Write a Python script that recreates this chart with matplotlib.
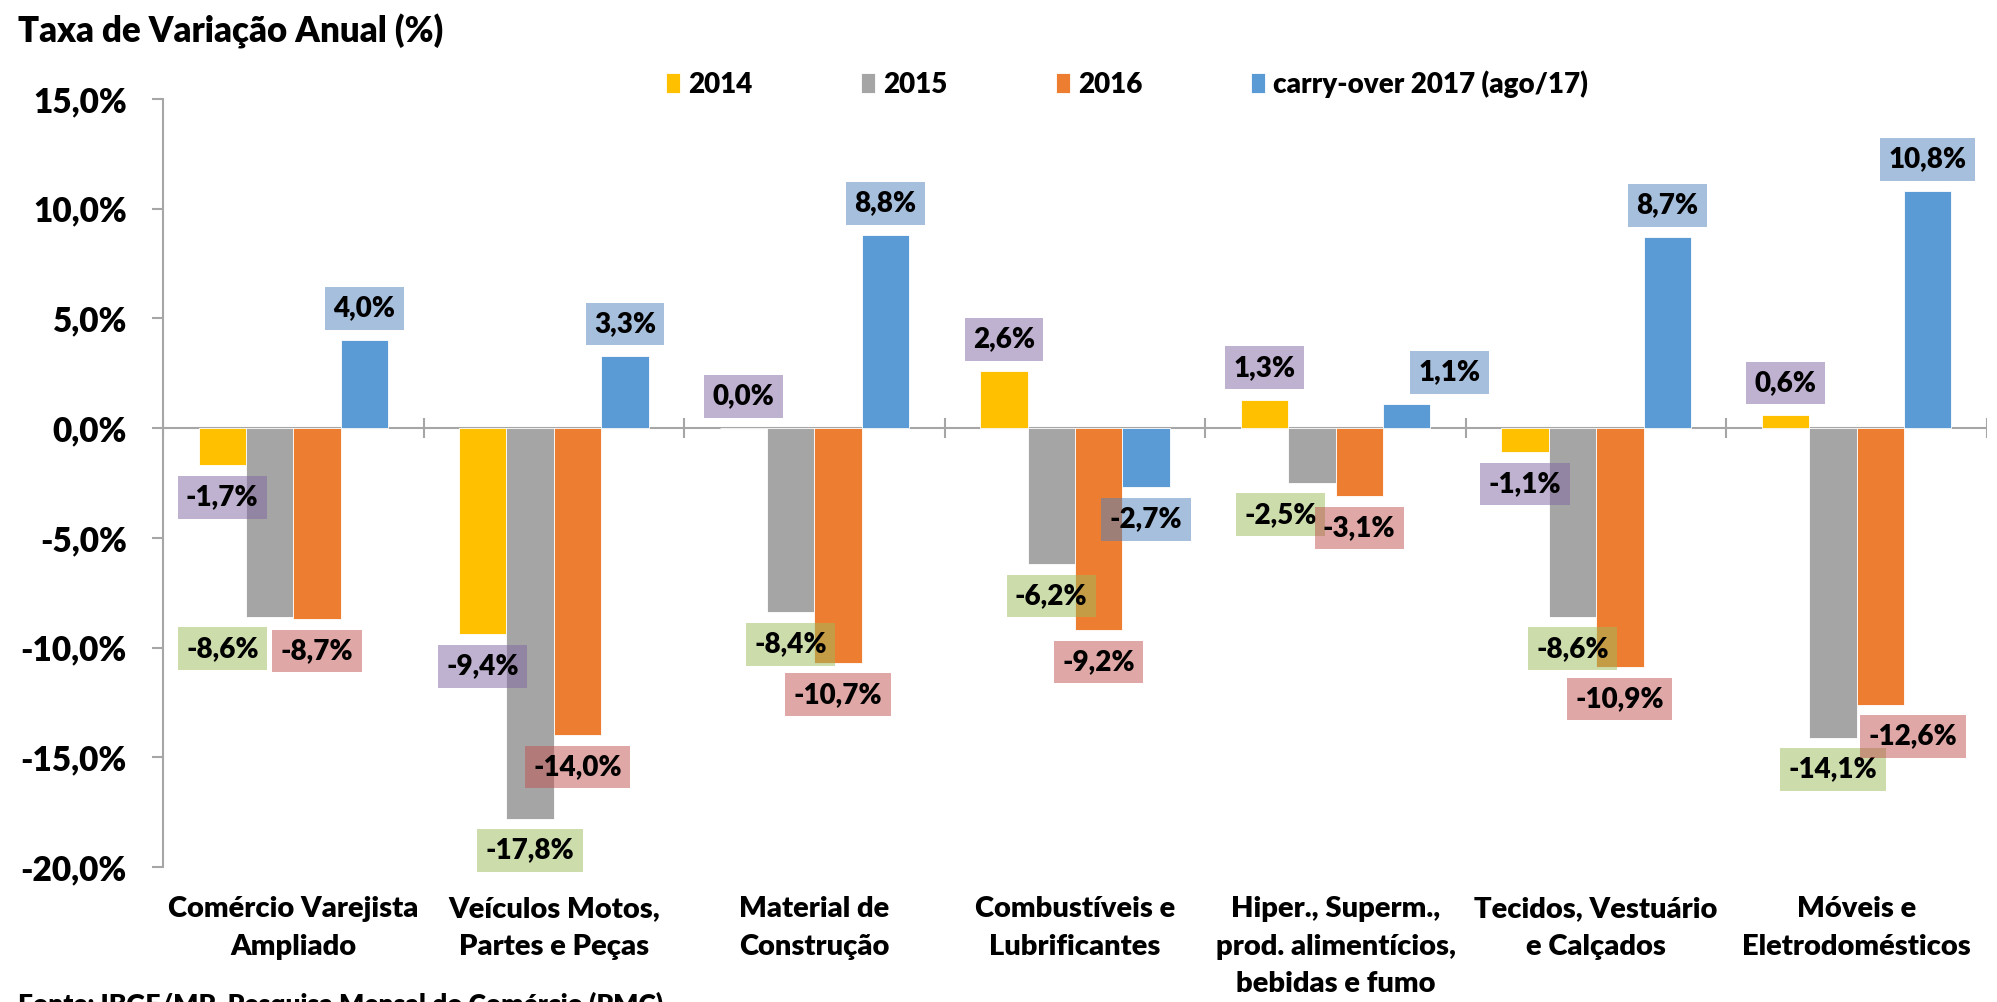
import matplotlib
matplotlib.use('Agg')
import matplotlib.pyplot as plt
import numpy as np

plt.rcParams['font.family'] = ['Lato', 'DejaVu Sans']
plt.rcParams['font.weight'] = 'heavy'
WT = 'heavy'

categories = ['Comércio Varejista\nAmpliado', 'Veículos Motos,\nPartes e Peças',
              'Material de\nConstrução', 'Combustíveis e\nLubrificantes',
              'Hiper., Superm.,\nprod. alimentícios,\nbebidas e fumo',
              'Tecidos, Vestuário\ne Calçados', 'Móveis e\nEletrodomésticos']
series_names = ['2014', '2015', '2016', 'carry-over 2017 (ago/17)']
v2014 = [-1.7, -9.4, 0.0, 2.6, 1.3, -1.1, 0.6]
v2015 = [-8.6, -17.8, -8.4, -6.2, -2.5, -8.6, -14.1]
v2016 = [-8.7, -14.0, -10.7, -9.2, -3.1, -10.9, -12.6]
v2017 = [4.0, 3.3, 8.8, -2.7, 1.1, 8.7, 10.8]
yticks = [-20, -15, -10, -5, 0, 5, 10, 15]

bar_colors = ['#FFC000', '#A5A5A5', '#ED7D31', '#5B9BD5']
box_colors = ['#8064A2', '#9BBB59', '#C0504D', '#4F81BD']
# labels that were dragged sideways in the original: (series, category) -> shift
label_shift = {(1, 0): -0.18, (1, 4): -0.12, (3, 4): 0.165, (2, 6): 0.125}

fig = plt.figure(figsize=(19.97, 10.02), dpi=100)
ax = fig.add_axes([163 / 1997, 1 - 867 / 1002, (1987 - 163) / 1997, (867 - 99) / 1002])

x = np.arange(len(categories))
w = 1 / 5.5
allvals = [v2014, v2015, v2016, v2017]
for i, vals in enumerate(allvals):
    off = (i - 1.5) * w
    ax.bar(x + off, vals, w, color=bar_colors[i], edgecolor='white', linewidth=0.6,
           label=series_names[i], zorder=2)
    for j, v in enumerate(vals):
        ty = v + 1.45 if v >= 0 else v - 1.45
        tx = x[j] + off + label_shift.get((i, j), 0)
        ax.text(tx, ty, f'{v:.1f}%'.replace('.', ','), ha='center', va='center',
                fontsize=20, fontweight=WT, zorder=5,
                bbox=dict(boxstyle='square,pad=0.3', fc=box_colors[i], alpha=0.5, ec='none'))

ax.axhline(0, color='#A6A6A6', lw=1.5, zorder=1)
ax.vlines(np.arange(-0.5, len(categories)), -0.45, 0.45, color='#A6A6A6', lw=1.5, zorder=1)

ax.set_xlim(-0.5, len(categories) - 0.5)
ax.set_ylim(-20, 15)
ax.set_yticks(yticks)
ax.set_yticklabels([f'{t:.1f}%'.replace('.', ',') for t in yticks], fontsize=24, fontweight=WT)
ax.set_xticks(x)
ax.set_xticklabels(categories, fontsize=21, fontweight=WT, linespacing=1.54)
ax.tick_params(axis='x', length=0, pad=21)
ax.tick_params(axis='y', length=8, width=1.5, color='#A6A6A6', pad=18)
for s in ['top', 'right', 'bottom']:
    ax.spines[s].set_visible(False)
ax.spines['left'].set_color('#A6A6A6')
ax.spines['left'].set_linewidth(1.5)

leg = ax.legend(loc='center left', bbox_to_anchor=(666 / 1997, 1 - 84 / 1002),
                bbox_transform=fig.transFigure, ncol=4, frameon=False, fontsize=20,
                handlelength=0.5, handleheight=0.7, handletextpad=0.3, columnspacing=3.9,
                borderaxespad=0, borderpad=0, prop={'weight': WT, 'size': 20})

fig.text(18 / 1997, 1 - 31 / 1002, 'Taxa de Variação Anual (%)', fontsize=25,
         fontweight=WT, va='center', ha='left')
fig.text(18 / 1997, -0.011, 'Fonte: IBGE/MP, Pesquisa Mensal do Comércio (PMC)', fontsize=19,
         fontweight=WT, va='baseline', ha='left')

fig.savefig('out.png', dpi=100)
